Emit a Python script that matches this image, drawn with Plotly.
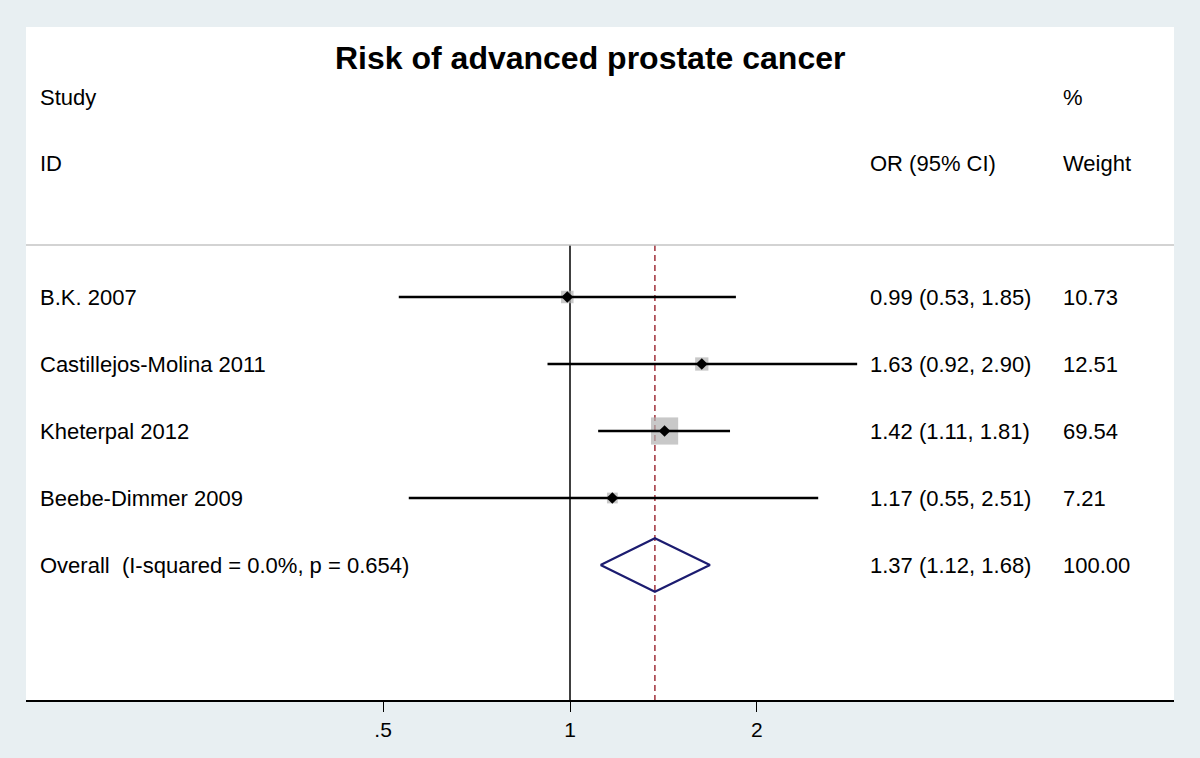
import math
import plotly.graph_objects as go

studies = ["B.K. 2007", "Castillejos-Molina 2011", "Kheterpal 2012", "Beebe-Dimmer 2009"]
or_est = [0.99, 1.63, 1.42, 1.17]
ci_low = [0.53, 0.92, 1.11, 0.55]
ci_high = [1.85, 2.90, 1.81, 2.51]
weights = [10.73, 12.51, 69.54, 7.21]
overall_label = "Overall  (I-squared = 0.0%, p = 0.654)"
overall_est = 1.37
overall_low = 1.12
overall_high = 1.68
tick_vals = [0.5, 1, 2]
tick_text = [".5", "1", "2"]

FONT = "Liberation Sans, Arial, Helvetica, sans-serif"
BG = "#e8eff2"
W, H = 1200, 758
ML, MR, MT, MB = 26, 26, 27, 58
PW = W - ML - MR

def px2paper(px):
    return (px - ML) / PW

rows = list(range(len(studies)))
overall_row = len(studies)
y_top = -4.03
y_bottom = 6.015
y_header_line = -0.776

fig = go.Figure()

# null line at OR = 1
fig.add_trace(go.Scatter(x=[1, 1], y=[y_header_line, y_bottom], mode="lines",
                         line=dict(color="black", width=1.5), hoverinfo="skip", showlegend=False))
# overall dashed line
fig.add_trace(go.Scatter(x=[overall_est, overall_est], y=[y_header_line, y_bottom], mode="lines",
                         line=dict(color="#a0303a", width=1.5, dash="6px,4px"),
                         hoverinfo="skip", showlegend=False))

# weight boxes (area grows with weight)
fig.add_trace(go.Scatter(x=or_est, y=rows, mode="markers",
                         marker=dict(symbol="square", color="#b0b0b0",
                                     size=[3 + 2.9 * math.sqrt(w) for w in weights], line=dict(width=0)),
                         hoverinfo="skip", showlegend=False))

# CI lines
cx, cy = [], []
for r, lo, hi in zip(rows, ci_low, ci_high):
    cx += [lo, hi, None]
    cy += [r, r, None]
fig.add_trace(go.Scatter(x=cx, y=cy, mode="lines", line=dict(color="black", width=2.6),
                         hoverinfo="skip", showlegend=False))

# point estimates
fig.add_trace(go.Scatter(x=or_est, y=rows, mode="markers",
                         marker=dict(symbol="diamond", color="black", size=9),
                         hoverinfo="skip", showlegend=False))

# overall diamond
h = 0.4
fig.add_trace(go.Scatter(x=[overall_low, overall_est, overall_high, overall_est, overall_low],
                         y=[overall_row, overall_row - h, overall_row, overall_row + h, overall_row],
                         mode="lines", line=dict(color="#1c1c70", width=2.2),
                         hoverinfo="skip", showlegend=False))

ann = []
def text(x, y, s, size=22, bold=False, anchor="left"):
    ann.append(dict(x=x, y=y, xref="paper", yref="y", text=("<b>%s</b>" % s) if bold else s,
                    showarrow=False, xanchor=anchor, yanchor="middle",
                    font=dict(family=FONT, size=size, color="black")))

text(px2paper(590), -3.567, "Risk of advanced prostate cancer", size=32, bold=True, anchor="center")
text(px2paper(38), -2.985, "Study")
text(px2paper(1061), -2.985, "%")
text(px2paper(38), -2.0, "ID")
text(px2paper(868), -2.0, "OR (95% CI)")
text(px2paper(1061), -2.0, "Weight")

for r, s, e, lo, hi, w in zip(rows, studies, or_est, ci_low, ci_high, weights):
    text(px2paper(38), r, s)
    text(px2paper(868), r, "%.2f (%.2f, %.2f)" % (e, lo, hi))
    text(px2paper(1061), r, "%.2f" % w)
text(px2paper(38), overall_row, overall_label)
text(px2paper(868), overall_row, "%.2f (%.2f, %.2f)" % (overall_est, overall_low, overall_high))
text(px2paper(1061), overall_row, "%.2f" % 100.0)

x_lo = 10 ** ((ML - 570) / 621)
x_hi = 10 ** ((W - MR - 570) / 621)

fig.update_layout(
    width=W, height=H,
    margin=dict(l=ML, r=MR, t=MT, b=MB),
    paper_bgcolor=BG, plot_bgcolor="white",
    annotations=ann,
    shapes=[dict(type="line", xref="paper", yref="y", x0=0, x1=1, y0=y_header_line, y1=y_header_line,
                 line=dict(color="#c4c4c4", width=1.5))],
    xaxis=dict(type="log", range=[math.log10(x_lo), math.log10(x_hi)],
               tickvals=tick_vals, ticktext=tick_text, ticks="outside", ticklen=10,
               tickwidth=1, tickcolor="black", showgrid=False, zeroline=False,
               showline=True, linecolor="black", linewidth=2,
               tickfont=dict(family=FONT, size=21, color="black")),
    yaxis=dict(range=[y_bottom, y_top], visible=False, showgrid=False, zeroline=False),
)

fig.write_html("out.html", config={"displayModeBar": False},
               post_script="document.body.style.margin='0';document.body.style.background='%s';" % BG)
